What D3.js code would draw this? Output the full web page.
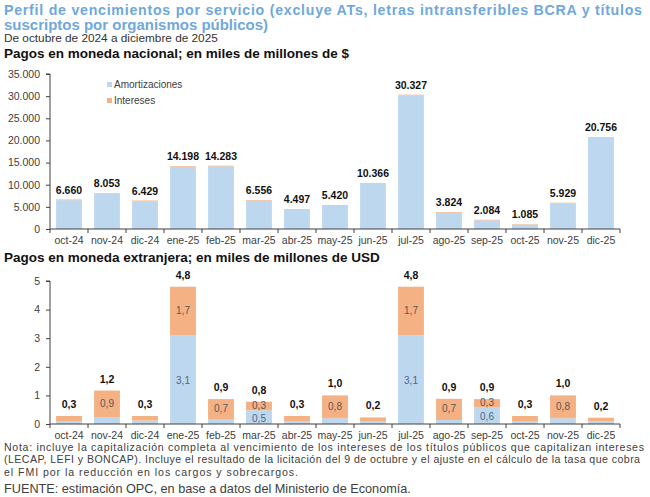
<!DOCTYPE html>
<html><head><meta charset="utf-8">
<script src="https://cdn.jsdelivr.net/npm/d3@7"></script>
<style>
body{margin:0;background:#fff;}
svg{display:block;font-family:"Liberation Sans",Arial,sans-serif;}
</style></head>
<body>
<svg id="c" width="650" height="497"></svg>
<script>
const categories = ["oct-24","nov-24","dic-24","ene-25","feb-25","mar-25","abr-25","may-25","jun-25","jul-25","ago-25","sep-25","oct-25","nov-25","dic-25"];
// Pesos (miles de millones de $)
const arsAmort = [6510,7903,6279,14048,14133,6406,4347,5270,10216,30177,3674,1934,985,5779,20606];
const arsInt   = [150,150,150,150,150,150,150,150,150,150,150,150,100,150,150];
const arsTicks = [0,5000,10000,15000,20000,25000,30000,35000];
// USD (miles de millones)
const usdAmort = [0.10,0.24,0.12,3.10,0.15,0.48,0.10,0.20,0.10,3.10,0.14,0.58,0.10,0.20,0.10];
const usdInt   = [0.18,0.93,0.16,1.70,0.72,0.30,0.18,0.80,0.13,1.70,0.74,0.29,0.18,0.80,0.12];
const usdTicks = [0,1,2,3,4,5];

const blue="#bdd7ee", orange="#f4b183", axisCol="#404040", textCol="#404040";
const svg=d3.select("#c");
const fmtInt = v => d3.format(",.0f")(v).replace(/,/g,".");
const fmt1 = v => d3.format(".1f")(v).replace(".",",");

// Titles
svg.append("text").attr("x",4).attr("y",14.5).attr("fill","#6fa8dc").attr("font-weight","bold").attr("font-size",14.2)
  .attr("textLength",638).attr("lengthAdjust","spacing")
  .text("Perfil de vencimientos por servicio (excluye ATs, letras intransferibles BCRA y títulos");
svg.append("text").attr("x",4).attr("y",29.5).attr("fill","#6fa8dc").attr("font-weight","bold").attr("font-size",14.2)
  .attr("textLength",264).attr("lengthAdjust","spacingAndGlyphs")
  .text("suscriptos por organismos públicos)");
svg.append("text").attr("x",4).attr("y",42).attr("fill","#333").attr("font-size",11.8)
  .text("De octubre de 2024 a diciembre de 2025");
svg.append("text").attr("x",4).attr("y",57.5).attr("fill","#111").attr("font-weight","bold").attr("font-size",13.5)
  .text("Pagos en moneda nacional; en miles de millones de $");
svg.append("text").attr("x",4).attr("y",261.5).attr("fill","#111").attr("font-weight","bold").attr("font-size",13.5)
  .text("Pagos en moneda extranjera; en miles de millones de USD");

const x = d3.scaleBand().domain(categories).range([50,620]).paddingInner(0.32).paddingOuter(0.16);

function panel(amort, inter, ticks, yDomain, yRange, tickFmt, totalFmt, innerLabels, totalOffset){
  const y = d3.scaleLinear().domain(yDomain).range(yRange);
  const g = svg.append("g");
  const data = categories.map((c,i)=>({c, a:amort[i], b:inter[i]}));
  g.selectAll(".a").data(data).join("rect")
    .attr("x",d=>x(d.c)).attr("width",x.bandwidth())
    .attr("y",d=>y(d.a)).attr("height",d=>y(0)-y(d.a)).attr("fill",blue);
  g.selectAll(".b").data(data).join("rect")
    .attr("x",d=>x(d.c)).attr("width",x.bandwidth())
    .attr("y",d=>y(d.a+d.b)).attr("height",d=>y(d.a)-y(d.a+d.b)).attr("fill",orange);
  // y axis
  const ya = g.append("g").attr("transform","translate(50,0)")
    .call(d3.axisLeft(y).tickValues(ticks).tickFormat(tickFmt).tickSize(4).tickPadding(6));
  ya.select(".domain").attr("stroke",axisCol).attr("d",`M-4,${y(yDomain[1])}H0V${y(0)}`);
  ya.selectAll(".tick line").attr("stroke",axisCol);
  ya.selectAll(".tick text").attr("fill",textCol).attr("font-size",10.5).attr("font-family","Liberation Sans");
  // x axis
  const xa = g.append("g").attr("transform",`translate(0,${y(0)})`);
  xa.append("line").attr("x1",50).attr("x2",620).attr("stroke",axisCol);
  const step = x.step();
  d3.range(categories.length+1).forEach(i=>{
    const xx = 50 + i*step;
    xa.append("line").attr("x1",xx).attr("x2",xx).attr("y1",0).attr("y2",4).attr("stroke",axisCol);
  });
  xa.selectAll(".xl").data(categories).join("text")
    .attr("x",c=>x(c)+x.bandwidth()/2).attr("y",15).attr("text-anchor","middle")
    .attr("fill",textCol).attr("font-size",10.5).text(c=>c);
  // totals
  g.selectAll(".t").data(data).join("text")
    .attr("x",d=>x(d.c)+x.bandwidth()/2).attr("y",d=>y(d.a+d.b)-totalOffset)
    .attr("text-anchor","middle").attr("font-weight","bold").attr("font-size",10.5).attr("fill","#111")
    .text(d=>totalFmt(d.a+d.b));
  if(innerLabels){
    data.forEach(d=>{
      if(d.b>=0.25) g.append("text").attr("x",x(d.c)+x.bandwidth()/2).attr("y",(y(d.a)+y(d.a+d.b))/2+3)
        .attr("text-anchor","middle").attr("font-size",10).attr("fill","#595959").text(fmt1(d.b));
      if(d.a>=0.25) g.append("text").attr("x",x(d.c)+x.bandwidth()/2).attr("y",(y(0)+y(d.a))/2+4.5)
        .attr("text-anchor","middle").attr("font-size",10).attr("fill","#4a6a8a").text(fmt1(d.a));
    });
  }
  return y;
}

panel(arsAmort, arsInt, arsTicks, [0,35000], [229,74], fmtInt, fmtInt, false, 6);
panel(usdAmort, usdInt, usdTicks, [0,5], [424,281], d=>d, fmt1, true, 8);

// legend
const leg = svg.append("g");
[["Amortizaciones",blue,88],["Intereses",orange,104]].forEach(([t,c,yy])=>{
  leg.append("rect").attr("x",107).attr("y",yy-6).attr("width",5).attr("height",5).attr("fill",c);
  leg.append("text").attr("x",114).attr("y",yy).attr("font-size",10).attr("fill",textCol).text(t);
});

// notes
const notes = ["Nota: incluye la capitalización completa al vencimiento de los intereses de los títulos públicos que capitalizan intereses",
 "(LECAP, LEFI y BONCAP). Incluye el resultado de la licitación del 9 de octubre y el ajuste en el cálculo de la tasa que cobra",
 "el FMI por la reducción en los cargos y sobrecargos."];
const noteLen = [640, 636, 294];
notes.forEach((t,i)=>svg.append("text").attr("x",4).attr("y",451+i*12.3).attr("font-size",10.6).attr("fill",textCol)
  .attr("textLength",noteLen[i]).attr("lengthAdjust","spacing").text(t));
svg.append("text").attr("x",4).attr("y",493).attr("font-size",12.7).attr("fill",textCol)
  .text("FUENTE: estimación OPC, en base a datos del Ministerio de Economía.");
</script>
</body></html>
